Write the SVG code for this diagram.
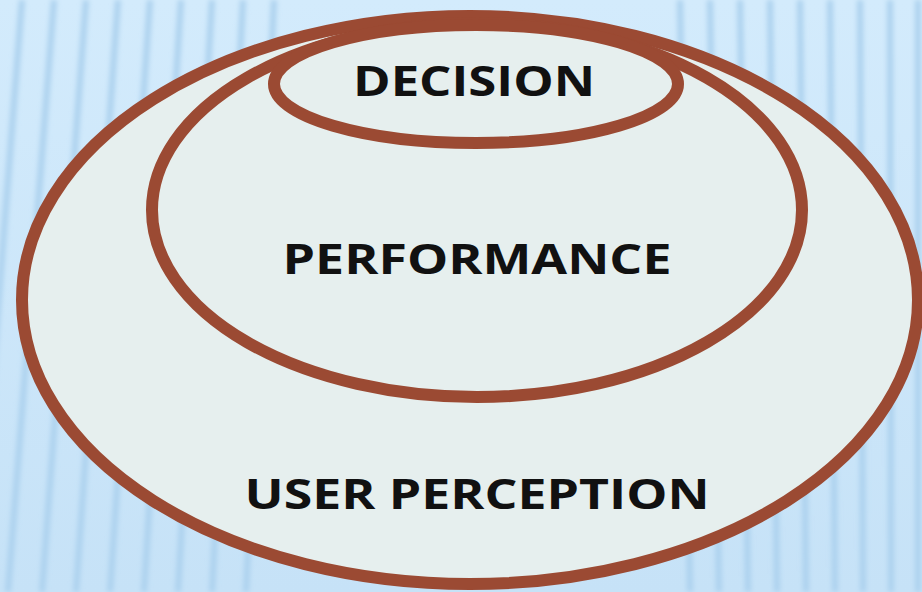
<svg xmlns="http://www.w3.org/2000/svg" width="922" height="592" viewBox="0 0 922 592">
<defs>
<linearGradient id="bg" x1="0" y1="0" x2="0" y2="1">
<stop offset="0" stop-color="#d3ebfc"/>
<stop offset="1" stop-color="#c6e2f7"/>
</linearGradient>
<filter id="soft" x="-5%" y="-5%" width="110%" height="110%"><feGaussianBlur stdDeviation="2.4"/></filter>
<style>
.ring{fill:#e6efee;stroke:#9b4a33;stroke-width:12}
.lbl{font-family:"Open Sans","DejaVu Sans",sans-serif;font-weight:bold;font-size:42px;fill:#111;text-anchor:middle}
.stripe{stroke:#acd1ee;stroke-width:6;fill:none}
</style>
</defs>
<rect width="922" height="592" fill="url(#bg)"/>
<g id="stripes" filter="url(#soft)">
<path class="stripe" d="M22 0 L-24 592"/>
<path class="stripe" d="M54 0 L8 592"/>
<path class="stripe" d="M86 0 L42 592"/>
<path class="stripe" d="M118 0 L76 592"/>
<path class="stripe" d="M150 0 L110 592"/>
<path class="stripe" d="M181 0 L144 592"/>
<path class="stripe" d="M212 0 L178 592"/>
<path class="stripe" d="M243 0 L212 592"/>
<path class="stripe" d="M274 0 L246 592"/>
<path class="stripe" d="M680 0 L690 592"/>
<path class="stripe" d="M710 0 L719 592"/>
<path class="stripe" d="M740 0 L748 592"/>
<path class="stripe" d="M770 0 L777 592"/>
<path class="stripe" d="M800 0 L806 592"/>
<path class="stripe" d="M830 0 L835 592"/>
<path class="stripe" d="M860 0 L863 592"/>
<path class="stripe" d="M890 0 L891 592"/>
<path class="stripe" d="M918 0 L918 592"/>
</g>
<g id="user-perception">
<ellipse class="ring" cx="470" cy="300" rx="448" ry="284"/>
<text class="lbl" x="477" y="509" textLength="465" lengthAdjust="spacingAndGlyphs">USER PERCEPTION</text>
</g>
<g id="performance">
<ellipse class="ring" cx="477" cy="210" rx="325" ry="187"/>
<text class="lbl" x="477" y="274" textLength="389" lengthAdjust="spacingAndGlyphs">PERFORMANCE</text>
</g>
<g id="decision">
<ellipse class="ring" cx="476" cy="84" rx="202" ry="59"/>
<text class="lbl" x="474" y="96" textLength="242" lengthAdjust="spacingAndGlyphs">DECISION</text>
</g>
<g id="connectors"/>
</svg>
